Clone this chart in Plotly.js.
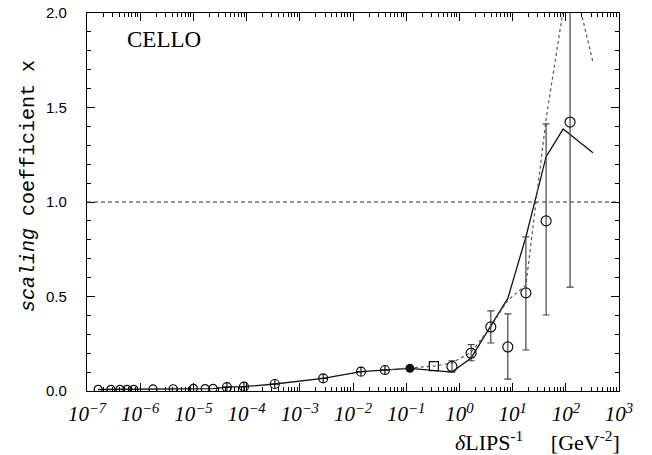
<!DOCTYPE html>
<html>
<head>
<meta charset="utf-8">
<script src="https://cdn.plot.ly/plotly-3.0.1.min.js"></script>
<style>html,body{margin:0;padding:0;background:#fff;}#chart{width:652px;height:455px;}</style>
</head>
<body>
<div id="chart"></div>
<script>
// log10 positions and values
var lowLogX = [-6.79, -6.55, -6.38, -6.25, -6.12, -5.76, -5.38, -5.0, -4.78, -4.63];
var lowY    = [0.009, 0.009, 0.009, 0.009, 0.009, 0.011, 0.012, 0.014, 0.013, 0.014];

var crossLogX = [-4.37, -4.05, -3.47, -2.56, -1.85, -1.40];
var crossY    = [0.020, 0.023, 0.037, 0.067, 0.102, 0.111];

var filledLogX = [-0.93];
var filledY    = [0.120];

var squareLogX = [-0.48];
var squareY    = [0.132];

var errLogX  = [-0.14, 0.22, 0.59, 0.91, 1.25, 1.63, 2.08];
var errY     = [0.130, 0.200, 0.339, 0.233, 0.519, 0.900, 1.423];
var errPlus  = [0.030, 0.045, 0.085, 0.175, 0.296, 0.513, 0.95];
var errMinus = [0.030, 0.040, 0.085, 0.170, 0.302, 0.498, 0.873];

var solidLogX = [-6.79, -6.12, -5.38, -4.63, -4.37, -4.05, -3.47, -2.56, -1.85, -1.40, -0.93, -0.14, 0.22, 0.59, 0.91, 1.25, 1.63, 1.95, 2.51];
var solidY    = [0.008, 0.009, 0.011, 0.013, 0.020, 0.023, 0.037, 0.067, 0.102, 0.111, 0.120, 0.100, 0.175, 0.345, 0.490, 0.815, 1.240, 1.386, 1.260];

var dottedLogX = [-1.40, -0.93, -0.48, -0.14, 0.22, 0.59, 0.91, 1.25, 1.63, 2.08, 2.51];
var dottedY    = [0.111, 0.120, 0.132, 0.148, 0.205, 0.340, 0.480, 0.560, 1.440, 2.250, 1.740];

var refLineY = 1.0;

var xTickLogs  = [-7, -6, -5, -4, -3, -2, -1, 0, 1, 2, 3];
var xTickText  = ["10<sup>\u22127</sup>", "10<sup>\u22126</sup>", "10<sup>\u22125</sup>", "10<sup>\u22124</sup>", "10<sup>\u22123</sup>", "10<sup>\u22122</sup>", "10<sup>\u22121</sup>", "10<sup>0</sup>", "10<sup>1</sup>", "10<sup>2</sup>", "10<sup>3</sup>"];

function pw(a) { return a.map(function (v) { return Math.pow(10, v); }); }

var traces = [
  { x: pw(solidLogX), y: solidY, mode: 'lines', line: { color: '#111', width: 1.3 }, hoverinfo: 'skip' },
  { x: pw(dottedLogX), y: dottedY, mode: 'lines', line: { color: '#555', width: 1.2, dash: 'dot' }, hoverinfo: 'skip' },
  { x: pw(lowLogX), y: lowY, mode: 'markers', marker: { symbol: 'circle-open', size: 8, color: '#111', line: { width: 1.2 } } },
  { x: pw(crossLogX), y: crossY, mode: 'markers', marker: { symbol: 'circle-cross-open', size: 9, color: '#111', line: { width: 1.2 } } },
  { x: pw(filledLogX), y: filledY, mode: 'markers', marker: { symbol: 'circle', size: 9, color: '#111' } },
  { x: pw(squareLogX), y: squareY, mode: 'markers', marker: { symbol: 'square-open', size: 9, color: '#111', line: { width: 1.2 } } },
  { x: pw(errLogX), y: errY, mode: 'markers',
    marker: { symbol: 'circle-open', size: 10, color: '#111', line: { width: 1.2 } },
    error_y: { type: 'data', symmetric: false, array: errPlus, arrayminus: errMinus, color: '#444', thickness: 1.2, width: 3.5 } }
];

var layout = {
  width: 652, height: 455,
  margin: { l: 87, r: 33, t: 13, b: 64 },
  paper_bgcolor: '#fff', plot_bgcolor: '#fff',
  showlegend: false,
  xaxis: {
    type: 'log', range: [-7, 3],
    tickvals: pw(xTickLogs), ticktext: xTickText,
    ticks: 'inside', ticklen: 8, tickwidth: 1, tickcolor: '#000',
    minor: { ticks: 'inside', ticklen: 4, tickwidth: 1, tickcolor: '#000', dtick: 'D1' },
    showline: true, linecolor: '#000', linewidth: 1.2, mirror: 'ticks',
    showgrid: false, zeroline: false,
    ticklabelstandoff: 4,
    tickfont: { family: 'Liberation Serif, serif', size: 21, color: '#000', style: 'italic' }
  },
  yaxis: {
    range: [0, 2], dtick: 0.5, tickformat: '.1f',
    ticks: 'inside', ticklen: 8, tickwidth: 1, tickcolor: '#000',
    minor: { ticks: 'inside', ticklen: 4, tickwidth: 1, tickcolor: '#000', dtick: 0.1 },
    showline: true, linecolor: '#000', linewidth: 1.2, mirror: 'ticks',
    showgrid: false, zeroline: false,
    ticklabelstandoff: 16,
    tickfont: { family: 'Liberation Sans, sans-serif', size: 15, color: '#000' }
  },
  shapes: [
    { type: 'line', xref: 'paper', x0: 0, x1: 1, yref: 'y', y0: refLineY, y1: refLineY, line: { color: '#333', width: 1, dash: '4px,3px' } }
  ],
  annotations: [
    { text: 'CELLO', xref: 'paper', yref: 'paper', x: 0.145, y: 0.93, xanchor: 'center', yanchor: 'middle', showarrow: false,
      font: { family: 'Liberation Serif, serif', size: 23, color: '#000' } },
    { text: '<i>scaling</i> coefficient x', xref: 'paper', yref: 'paper', x: -0.111, y: 0.542, xanchor: 'center', yanchor: 'middle', textangle: -90, showarrow: false,
      font: { family: 'Liberation Mono, monospace', size: 20, color: '#000' } },
    { text: '<i>\u03b4</i>LIPS<sup>-1</sup>\u00a0\u00a0\u00a0\u00a0\u00a0[GeV<sup>-2</sup>]', xref: 'paper', yref: 'paper', x: 1.004, y: -0.093, xanchor: 'right', yanchor: 'top', showarrow: false,
      borderpad: 0, font: { family: 'Liberation Serif, serif', size: 22, color: '#000' } }
  ]
};

Plotly.newPlot('chart', traces, layout, { staticPlot: true, displayModeBar: false });
</script>
</body>
</html>
